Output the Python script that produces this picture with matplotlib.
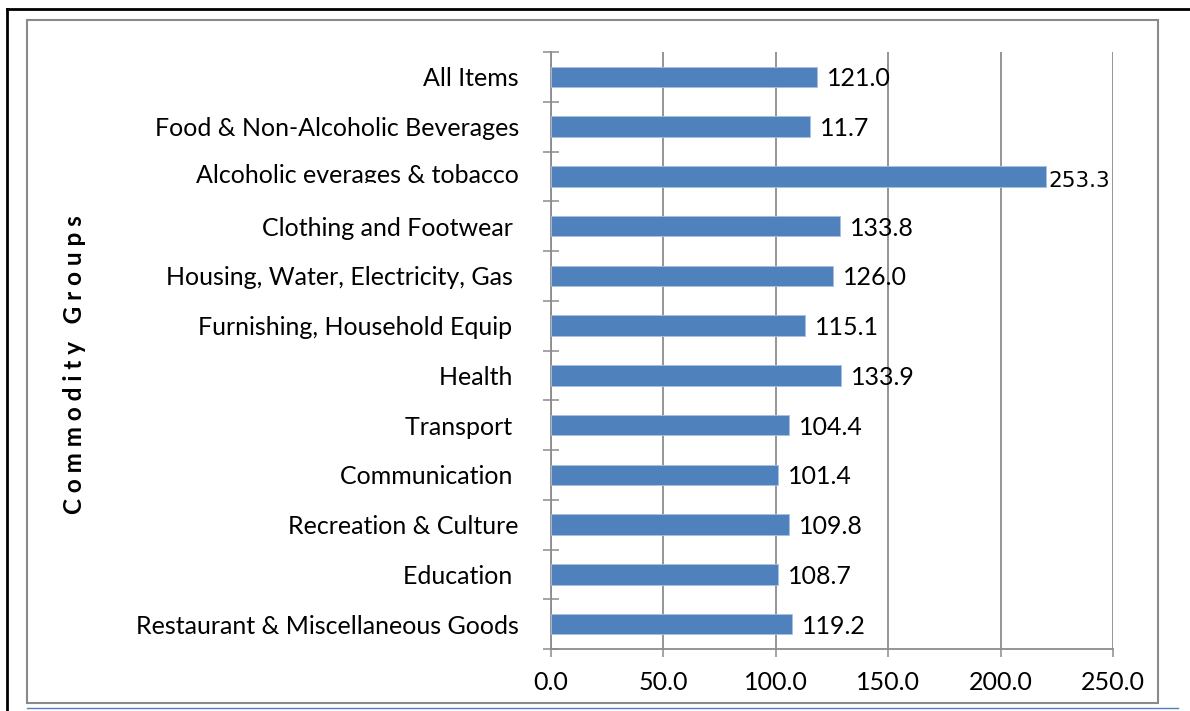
import numpy as np
import matplotlib.pyplot as plt
from matplotlib.patches import Rectangle
from matplotlib.lines import Line2D

categories = ["All Items", "Food & Non-Alcoholic Beverages", "Alcoholic everages & tobacco",
              "Clothing and Footwear ", "Housing, Water, Electricity, Gas ", "Furnishing, Household Equip ",
              "Health ", "Transport ", "Communication ", "Recreation & Culture", "Education ",
              "Restaurant & Miscellaneous Goods"]
# bar lengths as drawn in the source chart
bar_values = [118.3, 115.3, 220.0, 128.4, 125.5, 113.0, 129.1, 105.9, 100.9, 105.9, 100.9, 107.0]
# data labels as printed (they don't always match the bars)
value_labels = ["121.0", "11.7", "253.3", "133.8", "126.0", "115.1", "133.9",
                "104.4", "101.4", "109.8", "108.7", "119.2"]
xticks = [0, 50, 100, 150, 200, 250]

W, H = 1190, 711
plt.rcParams['font.family'] = ['Lato', 'DejaVu Sans']
fs = 18

fig = plt.figure(figsize=(W / 100, H / 100), dpi=100)
ax = fig.add_axes([551 / W, 1 - 649 / H, (1113 - 551) / W, (649 - 52) / H])

ypos = np.arange(len(categories))
ax.barh(ypos, bar_values, height=0.41, color='#4f81bd', edgecolor='#a9c1df', linewidth=0.6, zorder=3)
ax.set_ylim(len(categories) - 0.5, -0.5)
ax.set_xlim(0, 250)

ax.set_xticks(xticks)
ax.set_xticklabels([f"{v:.1f}" for v in xticks], fontsize=fs)
ax.tick_params(axis='x', direction='out', length=6, width=1.1, color='#8c8c8c', pad=10)
ax.set_yticks(ypos)
ax.set_yticklabels([])
ax.tick_params(axis='y', which='major', length=0)
ax.set_yticks(np.arange(len(categories) + 1) - 0.5, minor=True)
ax.tick_params(axis='y', which='minor', direction='inout', length=11, width=1.1, color='#8c8c8c')

ax.grid(axis='x', color='#8c8c8c', linewidth=1.3, zorder=0)
for s in ['top', 'right']:
    ax.spines[s].set_visible(False)
for s in ['left', 'bottom']:
    ax.spines[s].set_color('#8c8c8c')
    ax.spines[s].set_linewidth(1.3)

# category labels (the third one is cut off at the bottom in the source)
clip = Rectangle((0, 1 - 183 / H), 1, 183 / H, transform=fig.transFigure)
for i, cat in enumerate(categories):
    if i == 2:
        t = ax.text(-14.3, i - 0.06, cat, ha='right', va='center_baseline', fontsize=fs)
        t.set_clip_path(clip)
        t.set_clip_on(True)
    else:
        ax.text(-14.3, i, cat, ha='right', va='center_baseline', fontsize=fs)

# value labels
for i, (v, lab) in enumerate(zip(bar_values, value_labels)):
    if i == 2:
        ax.text(v + 1.3, i + 0.05, lab, ha='left', va='center_baseline', fontsize=15.5, family='DejaVu Sans')
    else:
        ax.text(v + 4.5, i, lab, ha='left', va='center_baseline', fontsize=fs)

fig.text(75 / W, 1 - 365 / H, "C o m m o d i t y   G r o u p s", rotation=90,
         ha='center', va='center', fontsize=17.5, fontweight='bold')

# frames around the chart
fig.add_artist(Rectangle((27 / W, 1 - 703 / H), (1158 - 27) / W, (703 - 20) / H,
                         transform=fig.transFigure, fill=False, edgecolor='#8a8a8a', linewidth=1.5))
fig.add_artist(Line2D([7 / W, 1], [1 - 9 / H, 1 - 9 / H], transform=fig.transFigure, color='black', linewidth=2))
fig.add_artist(Line2D([7 / W, 7 / W], [0, 1 - 9 / H], transform=fig.transFigure, color='black', linewidth=2))
fig.add_artist(Line2D([27 / W, 1178 / W], [1 - 708 / H, 1 - 708 / H], transform=fig.transFigure,
                      color='#4f81bd', linewidth=1))

fig.savefig("out.png", dpi=100)
